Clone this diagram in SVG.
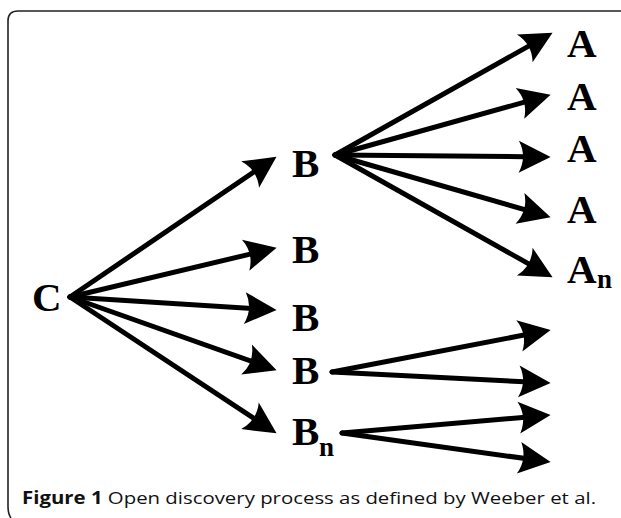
<svg xmlns="http://www.w3.org/2000/svg" width="621" height="518" viewBox="0 0 621 518">
<style>
.n{font-family:"Liberation Serif","Times New Roman",serif;font-weight:bold;font-size:41px;fill:#000}
.sub{font-family:"Liberation Serif","Times New Roman",serif;font-weight:bold;font-size:27px;fill:#000}
.e{stroke:#000;stroke-width:5;fill:none;stroke-linecap:round;marker-end:url(#ah)}
.cap{font-family:"Open Sans","Noto Sans","DejaVu Sans",sans-serif;font-size:17px;fill:#111}
</style>
<defs>
<marker id="ah" markerUnits="userSpaceOnUse" markerWidth="34" markerHeight="34" viewBox="0 0 32 32" refX="21" refY="16" orient="auto">
<path d="M31,16 L1,1 Q9,16 1,31 Z" fill="#000"/>
</marker>
</defs>
<rect width="621" height="518" fill="#fff"/>
<path d="M621,11 H18 Q8,11 8,21 V506 Q8,514 11,518" fill="none" stroke="#222" stroke-width="1.6"/>
<g id="connectors">
<line class="e" x1="70" y1="297" x2="267.7" y2="162.6"/>
<line class="e" x1="70" y1="297" x2="266.3" y2="250.3"/>
<line class="e" x1="70" y1="297" x2="266" y2="309.4"/>
<line class="e" x1="70" y1="297" x2="266.6" y2="366.7"/>
<line class="e" x1="70" y1="297" x2="267.7" y2="427.5"/>
<line class="e" x1="335" y1="155" x2="543.3" y2="37.9"/>
<line class="e" x1="335" y1="155" x2="540.4" y2="97.7"/>
<line class="e" x1="335" y1="155" x2="540" y2="156.9"/>
<line class="e" x1="335" y1="155" x2="540.4" y2="214.2"/>
<line class="e" x1="335" y1="155" x2="543.3" y2="272.1"/>
<line class="e" x1="332" y1="372" x2="540.2" y2="331.9"/>
<line class="e" x1="332" y1="372" x2="540" y2="382.5"/>
<line class="e" x1="342" y1="433" x2="540" y2="415.9"/>
<line class="e" x1="342" y1="433" x2="540.1" y2="460.6"/>
</g>
<g id="C"><text class="n" x="32" y="311">C</text></g>
<g id="B1"><text class="n" x="292" y="177">B</text></g>
<g id="B2"><text class="n" x="292" y="263">B</text></g>
<g id="B3"><text class="n" x="292" y="331">B</text></g>
<g id="B4"><text class="n" x="292" y="384">B</text></g>
<g id="Bn"><text class="n" x="292" y="445">B</text><text class="sub" x="319" y="456">n</text></g>
<g id="A1"><text class="n" x="567" y="57">A</text></g>
<g id="A2"><text class="n" x="567" y="110">A</text></g>
<g id="A3"><text class="n" x="567" y="162">A</text></g>
<g id="A4"><text class="n" x="567" y="223">A</text></g>
<g id="An"><text class="n" x="567" y="283">A</text><text class="sub" x="597" y="288">n</text></g>
<g id="caption"><text class="cap" x="22" y="504" textLength="574" lengthAdjust="spacingAndGlyphs"><tspan font-weight="bold">Figure 1</tspan> Open discovery process as defined by Weeber et al.</text></g>
</svg>
